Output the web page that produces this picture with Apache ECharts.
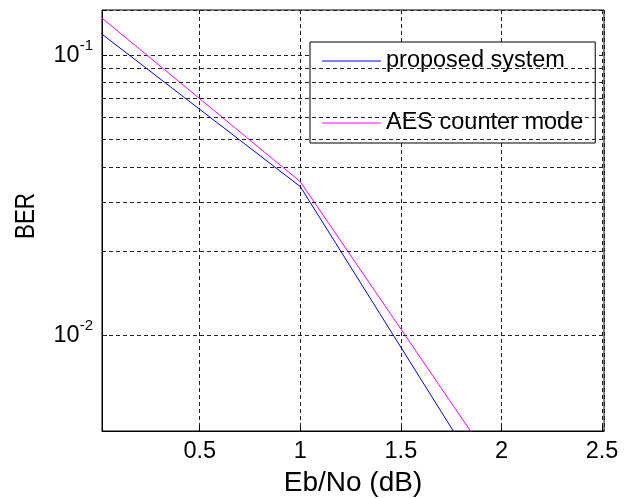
<!DOCTYPE html>
<html>
<head>
<meta charset="utf-8">
<script src="https://cdn.jsdelivr.net/npm/echarts@6/dist/echarts.min.js"></script>
<style>
html,body{margin:0;padding:0;background:#fff;}
#chart{width:632px;height:498px;}
</style>
</head>
<body>
<div id="chart"></div>
<script>
// Eb/No (dB) sample points
var ebno = [0, 1, 2];
// BER values
var proposedSystem = [0.121, 0.034, 0.00243];
var aesCounterMode = [0.1383, 0.0354, 0.00315];
// axis ticks
var xTicks = [0.5, 1, 1.5, 2, 2.5];
var yDecades = [0.01, 0.1];
var minorGrid = [0.005, 0.006, 0.007, 0.008, 0.009, 0.02, 0.03, 0.04, 0.05, 0.06, 0.07, 0.08, 0.09];
var seriesNames = ['proposed system', 'AES counter mode'];
var seriesColors = ['#0000ff', '#ff00ff'];

var FONT = '"Liberation Sans", Arial, sans-serif';
var gridDash = {color: '#222', width: 1, type: [4, 3]};

function pairs(xs, ys) { return xs.map(function (x, i) { return [x, ys[i]]; }); }

var chart = echarts.init(document.getElementById('chart'), null, {renderer: 'canvas'});
chart.setOption({
  animation: false,
  backgroundColor: '#fff',
  textStyle: {fontFamily: FONT},
  grid: {left: 102, right: 28, top: 10, bottom: 67, containLabel: false, outerBoundsMode: 'none',
         show: true, borderColor: '#000', borderWidth: 1, backgroundColor: '#fff'},
  legend: {
    orient: 'vertical', left: 310, top: 42,
    padding: [7, 12, 8, 12],
    itemWidth: 59, itemHeight: 1, itemGap: 38,
    icon: 'rect',
    backgroundColor: '#fff', borderColor: '#000', borderWidth: 1,
    textStyle: {fontSize: 23.5, color: '#000', fontFamily: FONT, lineHeight: 23},
    data: seriesNames.map(function (n, i) { return {name: n, icon: 'rect', itemStyle: {color: seriesColors[i]}}; })
  },
  graphic: [{
    type: 'text', x: 26, y: 216, rotation: Math.PI / 2, scaleX: 0.8,
    style: {text: 'BER', fontSize: 28, fontFamily: FONT, fill: '#000', align: 'center', verticalAlign: 'middle'}
  }],
  xAxis: {
    type: 'value', min: 0.014, max: 2.51, minInterval: 0.5, maxInterval: 0.5, splitNumber: 5,
    name: 'Eb/No (dB)', nameLocation: 'middle', nameGap: 31,
    nameTextStyle: {fontSize: 28, color: '#000', fontFamily: FONT},
    axisLine: {show: true, lineStyle: {color: '#000'}},
    axisTick: {show: true, inside: true, length: 5, lineStyle: {color: '#000'}},
    axisLabel: {
      fontSize: 23.5, color: '#000', margin: 9, fontFamily: FONT,
      showMinLabel: false, showMaxLabel: false,
      formatter: function (v) {
        for (var i = 0; i < xTicks.length; i++) if (Math.abs(v - xTicks[i]) < 1e-6) return String(xTicks[i]);
        return '';
      }
    },
    splitLine: {show: true, lineStyle: gridDash}
  },
  yAxis: {
    type: 'log', logBase: 10, min: 0.00457, max: 0.145,
    axisLine: {show: true, lineStyle: {color: '#000'}},
    axisTick: {show: true, inside: true, length: 5, lineStyle: {color: '#000'}},
    axisLabel: {
      margin: 9, color: '#000', fontSize: 23.5, fontFamily: FONT,
      formatter: function (v) {
        for (var i = 0; i < yDecades.length; i++) {
          if (Math.abs(v - yDecades[i]) / yDecades[i] < 1e-6) {
            return '{b|10}{s|' + Math.round(Math.log10(yDecades[i])) + '}';
          }
        }
        return '';
      },
      rich: {
        b: {fontSize: 23.5, color: '#000', fontFamily: FONT, padding: [5, 0, 5, 0]},
        s: {fontSize: 15, color: '#000', fontFamily: FONT, verticalAlign: 'top'}
      }
    },
    splitLine: {show: true, lineStyle: gridDash}
  },
  series: [
    {
      name: seriesNames[0], type: 'line', symbol: 'none', clip: true,
      lineStyle: {color: seriesColors[0], width: 1}, itemStyle: {color: seriesColors[0]},
      data: pairs(ebno, proposedSystem),
      markLine: {
        silent: true, symbol: 'none', label: {show: false},
        lineStyle: gridDash, animation: false,
        data: minorGrid.map(function (v) { return {yAxis: v}; })
      },
      z: 3
    },
    {
      name: seriesNames[1], type: 'line', symbol: 'none', clip: true,
      lineStyle: {color: seriesColors[1], width: 1}, itemStyle: {color: seriesColors[1]},
      data: pairs(ebno, aesCounterMode),
      z: 3
    }
  ]
});
</script>
</body>
</html>
